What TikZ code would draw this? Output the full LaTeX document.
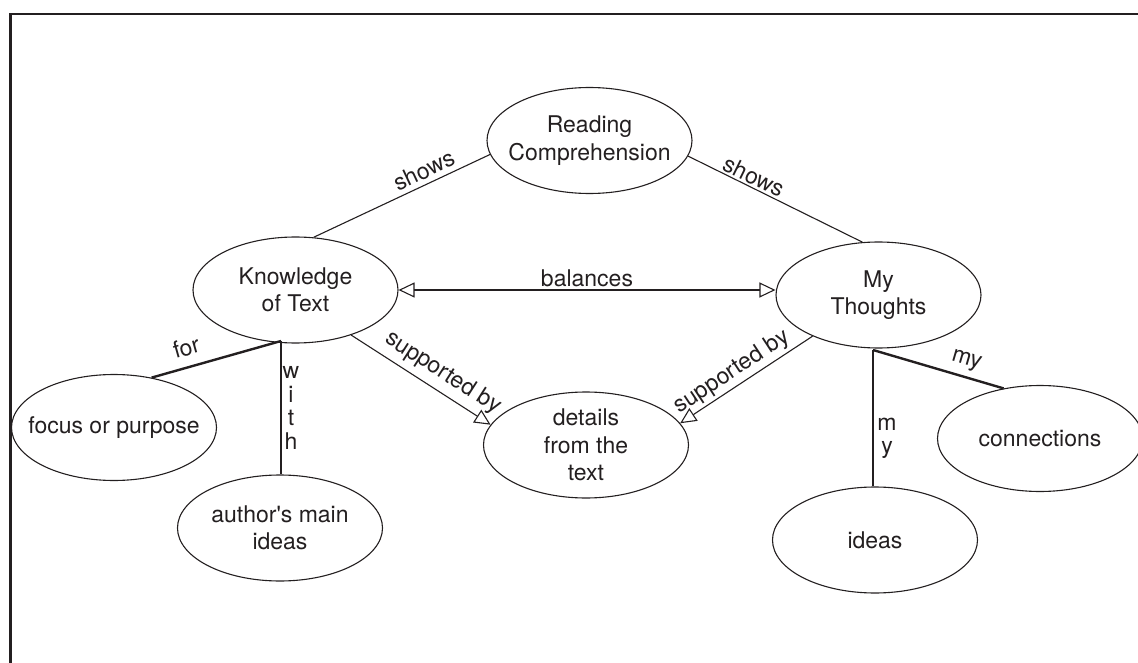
\documentclass[tikz,border=0pt]{standalone}
\usepackage{fontspec}
\setmainfont{TeX Gyre Heros}
\usetikzlibrary{shapes.geometric,arrows.meta}
\definecolor{ink}{HTML}{231F20}
\begin{document}
\begin{tikzpicture}[x=1pt,y=-1pt,
  every node/.style={font=\fontsize{23}{27.5}\selectfont,text=ink},
  bubble/.style={ellipse,draw=ink,line width=1.1pt,minimum width=205pt,
    minimum height=106pt,inner xsep=-25pt,inner ysep=-8pt,align=center},
  link/.style={draw=ink,line width=1.1pt},
  bold link/.style={draw=ink,line width=2.4pt},
  lbl/.style={inner sep=1pt},
  open tip/.style={-{Triangle[open,length=16pt,width=15pt]}},
  both tips/.style={{Triangle[open,length=16pt,width=15pt]}-{Triangle[open,length=16pt,width=15pt]}},
  letter/.style={anchor=base,inner sep=0pt},
]
\useasboundingbox (0,0) rectangle (1138,663);

% frame along the top and left edges
\draw[ink,line width=2.6pt] (10.3,663) -- (10.3,14) -- (1138,14);

% concepts
\node[bubble] (rc) at (589.5,140.5) {Reading\\Comprehension};
\node[bubble] (kt) at (295.5,290) {Knowledge\\of Text};
\node[bubble] (mt) at (878.5,295) {My\\Thoughts};
\node[bubble] (dt) at (586,445) {details\\from the\\text};
\node[bubble] (fp) at (114,427.5) {focus or purpose};
\node[bubble] (am) at (280,528) {author\textquotesingle s main\\ideas};
\node[bubble] (id) at (875,540) {ideas};
\node[bubble] (cn) at (1040,438.5) {connections};

% links from the central concept
\draw[link] (kt.71.7) -- node[lbl,sloped,above=3.6pt,pos=0.66] (s1) {shows} (rc.188);
\draw[link] (rc.-9) -- node[lbl,sloped,above=1pt,pos=0.35] (s2) {shows} (mt.107);

% balance between the two sides
\draw[link,both tips] (kt.east) -- node[lbl,above=2pt,midway] (bal) {balances} (kt.east -| mt.west);

% supporting details
\draw[link,open tip] (kt.-39.3) -- node[lbl,sloped,above=5.5pt,pos=0.59] (sb1) {supported by} (dt.168.6);
\draw[link,open tip] (mt.212) -- node[lbl,sloped,above=2pt,pos=0.55] (sb2) {supported by} (dt.13.2);

% branches below Knowledge of Text
\coordinate (kj) at (281,341);
\draw[bold link] (kj) -- node[lbl,sloped,above=9pt,pos=0.69] (for) {for} (fp.53.4);
\draw[bold link] (kj) -- (kj |- am.north);
\foreach \ch/\yy [count=\k] in {w/378,i/402,t/425.5,h/449}
  \node[letter] (with\k) at (291,\yy) {\ch};

% branches below My Thoughts
\coordinate (mj) at (873,350);
\draw[bold link] (mj) -- (mj |- id.north);
\draw[bold link] (mj) -- node[lbl,sloped,above=5pt,pos=0.68] (my) {my} (cn.126);
\foreach \ch/\yy [count=\k] in {m/430,y/453}
  \node[letter] (my\k) at (887,\yy) {\ch};
\end{tikzpicture}
\end{document}
